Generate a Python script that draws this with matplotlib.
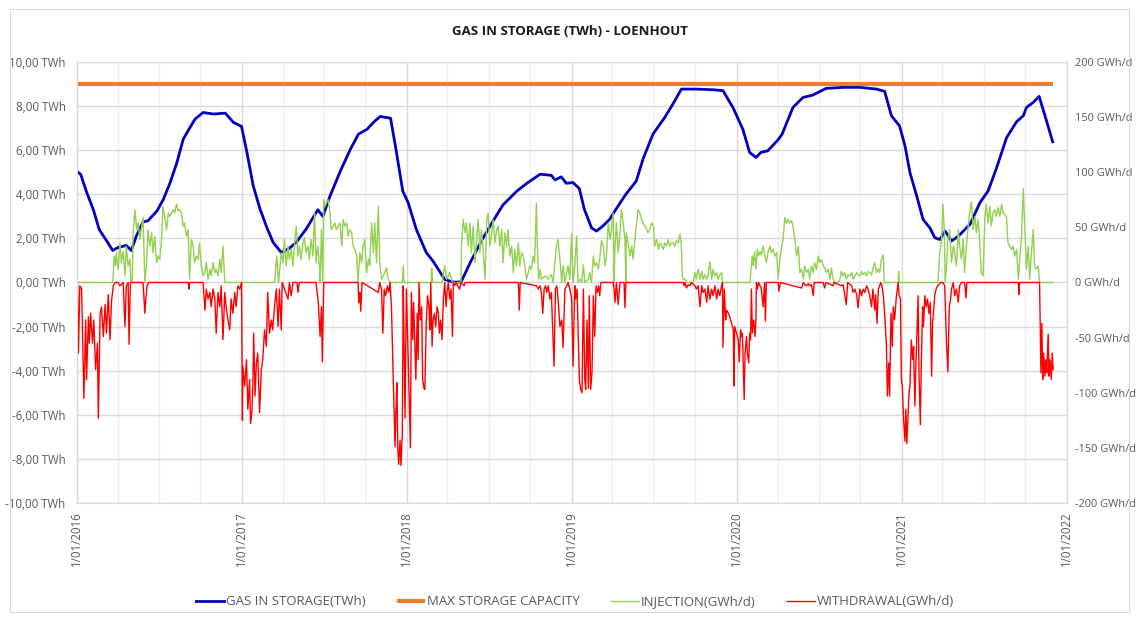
#!/usr/bin/env python3
"""Gas in storage at Loenhout: stock, max capacity, daily injection and withdrawal."""

import matplotlib

matplotlib.use("Agg")
import matplotlib.pyplot as plt
import matplotlib.dates as mdates
import numpy as np
from matplotlib.patches import Rectangle

plt.rcParams["font.family"] = ["Open Sans", "DejaVu Sans"]

STORAGE_COLOR = "#0000C0"
CAPACITY_COLOR = "#ED7D31"
INJECTION_COLOR = "#92D050"
WITHDRAWAL_COLOR = "#FF0000"
TEXT_COLOR = "#595959"
GRID_COLOR = "#D9D9D9"

START = np.datetime64("2016-01-01")
END = np.datetime64("2022-01-01")

# gas in storage (TWh)
STORAGE_DATES = [
    "2016-01-01", "2016-01-10", "2016-01-23", "2016-02-07", "2016-02-20", "2016-03-07",
    "2016-03-21", "2016-04-01", "2016-04-20", "2016-05-01", "2016-05-12", "2016-05-27",
    "2016-06-07", "2016-06-27", "2016-07-11", "2016-07-26", "2016-08-10", "2016-08-24",
    "2016-09-08", "2016-09-19", "2016-10-07", "2016-10-30", "2016-11-25", "2016-12-13",
    "2016-12-31", "2017-01-12", "2017-01-26", "2017-02-10", "2017-02-25", "2017-03-11",
    "2017-03-29", "2017-04-16", "2017-05-01", "2017-05-23", "2017-06-18", "2017-06-29",
    "2017-07-15", "2017-08-07", "2017-08-29", "2017-09-16", "2017-10-05", "2017-10-19",
    "2017-11-03", "2017-11-26", "2017-12-08", "2017-12-23", "2018-01-04", "2018-01-22",
    "2018-02-13", "2018-02-28", "2018-03-26", "2018-04-13", "2018-05-01", "2018-05-23",
    "2018-06-17", "2018-07-11", "2018-08-02", "2018-09-02", "2018-09-24", "2018-10-23",
    "2018-11-17", "2018-11-25", "2018-12-09", "2018-12-20", "2019-01-04", "2019-01-18",
    "2019-01-29", "2019-02-14", "2019-02-25", "2019-03-11", "2019-03-26", "2019-04-09",
    "2019-05-01", "2019-05-24", "2019-06-08", "2019-06-30", "2019-07-26", "2019-08-13",
    "2019-09-01", "2019-10-04", "2019-11-10", "2019-12-02", "2019-12-24", "2020-01-15",
    "2020-01-30", "2020-02-13", "2020-02-24", "2020-03-10", "2020-04-02", "2020-04-11",
    "2020-05-05", "2020-05-27", "2020-06-18", "2020-07-17", "2020-08-24", "2020-09-30",
    "2020-11-06", "2020-11-24", "2020-12-09", "2020-12-27", "2021-01-08", "2021-01-19",
    "2021-02-03", "2021-02-17", "2021-03-04", "2021-03-15", "2021-03-26", "2021-04-07",
    "2021-04-21", "2021-05-06", "2021-06-01", "2021-06-23", "2021-07-11", "2021-07-30",
    "2021-08-21", "2021-09-12", "2021-09-27", "2021-10-04", "2021-10-19", "2021-11-01",
    "2021-11-14", "2021-12-01",
]
STORAGE_TWH = [
    5.05, 4.9, 4.1, 3.3, 2.4, 1.9, 1.45, 1.58, 1.68, 1.45, 2.1, 2.74,
    2.8, 3.25, 3.77, 4.53, 5.44, 6.5, 7.03, 7.41, 7.71, 7.64, 7.68, 7.26,
    7.08, 5.9, 4.38, 3.33, 2.5, 1.82, 1.36, 1.55, 1.82, 2.42, 3.3, 3.0,
    3.92, 5.06, 6.04, 6.73, 6.95, 7.26, 7.53, 7.45, 6.04, 4.15, 3.62, 2.41,
    1.36, 0.97, 0.14, 0.02, 0.02, 0.97, 1.95, 2.79, 3.52, 4.15, 4.5, 4.91,
    4.86, 4.65, 4.79, 4.5, 4.53, 4.26, 3.32, 2.48, 2.33, 2.56, 2.86, 3.32,
    4.0, 4.6, 5.6, 6.73, 7.48, 8.09, 8.77, 8.77, 8.74, 8.7, 7.94, 6.95,
    5.9, 5.67, 5.9, 5.97, 6.47, 6.73, 7.94, 8.39, 8.5, 8.8, 8.85, 8.85,
    8.77, 8.67, 7.56, 7.1, 6.2, 4.98, 3.92, 2.86, 2.48, 2.03, 1.95, 2.33,
    1.88, 2.1, 2.64, 3.62, 4.15, 5.21, 6.57, 7.29, 7.56, 7.94, 8.17, 8.44,
    7.56, 6.38,
]

CAPACITY_DATES = ["2016-01-01", "2021-12-01"]
CAPACITY_TWH = [9.0, 9.0]

# injection (GWh/d): (days since 2016-01-01, value)
INJECTION = [
    (0, 7), (2, 0), (80, 0), (83, 24), (86, 15), (88, 27), (92, 12), (96, 36), (99, 18),
    (103, 28), (107, 6), (110, 33), (114, 15), (118, 21), (120, 0), (123, 0), (125, 45),
    (129, 66), (133, 48), (136, 54), (140, 39), (144, 51), (147, 59), (151, 0), (155, 18),
    (158, 48), (162, 33), (166, 45), (169, 27), (173, 42), (177, 18), (180, 24), (184, 21),
    (188, 39), (191, 69), (195, 60), (199, 48), (203, 63), (206, 60), (214, 66), (217, 63),
    (221, 71), (225, 65), (228, 66), (232, 63), (236, 51), (239, 54), (243, 42), (247, 48),
    (250, 3), (254, 39), (258, 33), (261, 18), (265, 24), (269, 21), (272, 36), (276, 15),
    (280, 6), (284, 9), (287, 18), (291, 3), (295, 12), (298, 6), (302, 18), (306, 9),
    (309, 12), (313, 6), (317, 21), (320, 9), (324, 33), (328, 0), (438, 0), (440, 9),
    (443, 24), (447, 0), (453, 27), (457, 18), (460, 39), (464, 15), (468, 33), (471, 21),
    (475, 30), (479, 15), (482, 33), (486, 51), (490, 24), (493, 33), (497, 21), (501, 36),
    (504, 41), (508, 27), (512, 33), (515, 21), (519, 39), (523, 24), (527, 63), (530, 18),
    (534, 33), (538, 12), (539, 0), (542, 48), (545, 0), (547, 75), (550, 69), (553, 72),
    (557, 75), (561, 63), (564, 48), (568, 51), (572, 54), (575, 48), (579, 51), (583, 54),
    (587, 33), (590, 57), (594, 51), (598, 54), (601, 42), (605, 48), (609, 45), (612, 33),
    (616, 30), (620, 24), (623, 0), (627, 27), (631, 18), (634, 33), (638, 39), (642, 9),
    (646, 21), (649, 15), (653, 54), (657, 27), (660, 54), (664, 18), (668, 69), (671, 18),
    (675, 3), (679, 6), (682, 9), (686, 13), (690, 3), (694, 0), (721, 0), (723, 15),
    (725, 0), (785, 0), (786, 13), (788, 0), (810, 0), (812, 9), (815, 15), (819, 3),
    (823, 6), (826, 9), (830, 3), (832, 0), (851, 0), (852, 33), (856, 57), (860, 45),
    (863, 54), (867, 33), (871, 54), (874, 27), (878, 51), (882, 18), (885, 36), (889, 57),
    (893, 27), (896, 48), (900, 30), (904, 3), (908, 57), (911, 63), (915, 33), (919, 45),
    (922, 57), (926, 36), (930, 48), (933, 51), (937, 33), (941, 48), (944, 18), (948, 45),
    (952, 33), (955, 48), (959, 24), (963, 33), (967, 9), (970, 30), (974, 15), (978, 36),
    (981, 15), (985, 27), (989, 24), (992, 15), (996, 3), (1000, 9), (1003, 15), (1007, 12),
    (1011, 24), (1014, 18), (1018, 72), (1020, 33), (1023, 3), (1026, 12), (1029, 3),
    (1037, 6), (1044, 3), (1048, 6), (1051, 7), (1055, 0), (1062, 33), (1066, 39),
    (1070, 21), (1074, 0), (1077, 15), (1081, 0), (1085, 9), (1088, 15), (1092, 3),
    (1096, 44), (1099, 0), (1103, 15), (1107, 42), (1110, 0), (1114, 3), (1118, 0),
    (1122, 16), (1125, 0), (1133, 3), (1136, 9), (1140, 0), (1144, 24), (1147, 15),
    (1151, 18), (1155, 12), (1158, 21), (1162, 38), (1166, 33), (1170, 15), (1173, 24),
    (1177, 54), (1181, 39), (1184, 48), (1188, 63), (1190, 0), (1192, 33), (1195, 54),
    (1199, 27), (1203, 45), (1206, 66), (1210, 54), (1214, 39), (1216, 0), (1217, 45),
    (1221, 36), (1225, 24), (1229, 33), (1232, 21), (1236, 39), (1240, 54), (1243, 66),
    (1247, 63), (1251, 57), (1254, 54), (1258, 51), (1262, 48), (1265, 45), (1269, 48),
    (1273, 54), (1277, 51), (1280, 33), (1284, 39), (1288, 30), (1291, 36), (1295, 33),
    (1299, 30), (1302, 36), (1306, 33), (1310, 39), (1313, 33), (1317, 36), (1321, 36),
    (1324, 33), (1328, 38), (1332, 36), (1336, 44), (1339, 33), (1341, 6), (1343, 3),
    (1347, 3), (1350, 1), (1354, 0), (1365, 0), (1369, 9), (1372, 3), (1376, 12),
    (1380, 3), (1384, 10), (1387, 3), (1391, 7), (1395, 3), (1398, 6), (1402, 19),
    (1406, 3), (1409, 12), (1413, 6), (1417, 9), (1420, 3), (1424, 7), (1428, 9),
    (1430, 0), (1491, 0), (1493, 12), (1496, 24), (1498, 15), (1501, 28), (1504, 12),
    (1507, 30), (1510, 24), (1513, 28), (1516, 25), (1520, 33), (1524, 24), (1527, 18),
    (1531, 28), (1535, 33), (1538, 27), (1542, 30), (1546, 24), (1550, 27), (1553, 3),
    (1557, 21), (1561, 33), (1564, 39), (1568, 59), (1572, 54), (1575, 57), (1579, 54),
    (1583, 56), (1586, 51), (1590, 39), (1594, 24), (1598, 33), (1601, 9), (1605, 12),
    (1609, 3), (1612, 15), (1616, 9), (1620, 12), (1623, 3), (1627, 15), (1631, 9),
    (1634, 18), (1638, 12), (1642, 24), (1645, 18), (1649, 21), (1653, 15), (1656, 13),
    (1660, 9), (1664, 12), (1668, 3), (1671, 13), (1675, 3), (1679, 0), (1686, 0),
    (1690, 3), (1693, 10), (1697, 6), (1701, 9), (1704, 3), (1708, 7), (1712, 6),
    (1716, 9), (1719, 3), (1723, 6), (1727, 9), (1730, 7), (1734, 6), (1738, 10),
    (1741, 7), (1745, 9), (1749, 6), (1752, 10), (1756, 9), (1760, 7), (1763, 13),
    (1767, 18), (1771, 9), (1775, 12), (1778, 9), (1782, 21), (1786, 25), (1788, 0),
    (1819, 0), (1820, 10), (1821, 0), (1907, 0), (1911, 27), (1915, 39), (1918, 71),
    (1921, 48), (1923, 0), (1926, 15), (1929, 39), (1933, 48), (1937, 18), (1941, 33),
    (1944, 27), (1948, 15), (1952, 48), (1955, 33), (1959, 21), (1963, 39), (1966, 9),
    (1970, 33), (1974, 51), (1977, 63), (1981, 73), (1985, 48), (1989, 60), (1992, 45),
    (1996, 57), (2000, 33), (2003, 9), (2007, 6), (2011, 60), (2014, 71), (2018, 54),
    (2022, 69), (2025, 51), (2029, 63), (2033, 66), (2036, 60), (2040, 68), (2044, 60),
    (2048, 71), (2051, 63), (2055, 62), (2059, 59), (2062, 36), (2066, 33), (2070, 30),
    (2073, 33), (2077, 24), (2081, 30), (2085, 3), (2088, 21), (2092, 42), (2096, 85),
    (2098, 63), (2101, 33), (2103, 12), (2107, 33), (2110, 3), (2114, 27), (2118, 48),
    (2121, 15), (2125, 12), (2129, 15), (2132, 0), (2162, 0),
]

# withdrawal (GWh/d, negative): (days since 2016-01-01, value)
WITHDRAWAL = [
    (0, 0), (2, -2), (4, -64), (7, -3), (11, -6), (16, -105), (20, -34), (22, -88),
    (26, -31), (28, -55), (31, -28), (35, -55), (38, -34), (42, -79), (46, -55), (48, -123),
    (52, -28), (55, -22), (59, -49), (63, -20), (66, -46), (70, -11), (74, -52), (77, -18),
    (81, -3), (85, 0), (92, 0), (96, -3), (103, 0), (107, -40), (110, -3), (114, 0),
    (116, -56), (119, 0), (147, 0), (151, -28), (153, -15), (156, -3), (159, 0), (247, 0),
    (249, -6), (250, 0), (280, 0), (284, -25), (287, -6), (291, -15), (295, -9), (298, -22),
    (302, -6), (306, -15), (309, -46), (313, -9), (317, -22), (320, -3), (324, -52),
    (328, -9), (331, -22), (335, -34), (339, -43), (342, -15), (346, -28), (350, -9),
    (353, -22), (357, -3), (361, -6), (365, 0), (367, -125), (368, -76), (372, -94),
    (376, -70), (379, -115), (383, -88), (385, -128), (388, -118), (390, -94), (392, -46),
    (395, -103), (398, -73), (401, -64), (405, -118), (409, -79), (412, -70), (416, -43),
    (420, -58), (423, -9), (427, -46), (431, -34), (434, -43), (438, -22), (442, -6),
    (446, -40), (449, -6), (453, -43), (455, 0), (468, -15), (471, 0), (475, -12), (479, 0),
    (488, 0), (490, -9), (493, 0), (530, 0), (535, -18), (539, -49), (542, -22), (544, -72),
    (547, 0), (623, 0), (625, -18), (627, -9), (629, -26), (632, 0), (668, -9), (671, 0),
    (675, -6), (678, -46), (681, -6), (684, -12), (688, -3), (691, -9), (694, 0), (697, -22),
    (701, -88), (705, -149), (707, -115), (709, -91), (711, -149), (713, -165), (716, -143),
    (718, -166), (721, -137), (723, -3), (725, -58), (727, -123), (730, -6), (733, -52),
    (736, -103), (739, -150), (741, -9), (744, -52), (746, -18), (749, -58), (751, -88),
    (754, -28), (756, -70), (758, 0), (761, -34), (764, -22), (766, -88), (769, -96),
    (771, -97), (774, -37), (777, -12), (780, -22), (782, -43), (784, 0), (787, -58),
    (789, -34), (792, -28), (795, -40), (798, -22), (801, -28), (803, -46), (806, -34),
    (809, -52), (812, -15), (815, 0), (818, -22), (820, -9), (823, 0), (826, -15), (829, -6),
    (832, -49), (834, 0), (837, -3), (840, 0), (848, -6), (851, 0), (858, -3), (860, 0),
    (978, 0), (980, -25), (982, 0), (1018, -3), (1022, -6), (1026, -3), (1029, -9),
    (1032, -28), (1035, -6), (1038, -3), (1041, -9), (1044, -3), (1048, -15), (1051, -9),
    (1054, -43), (1057, -76), (1060, -6), (1063, -3), (1066, -15), (1070, -40), (1074, -34),
    (1077, -59), (1081, -6), (1085, -3), (1088, 0), (1092, -6), (1096, -15), (1099, -76),
    (1103, -3), (1105, -15), (1108, -6), (1110, -40), (1113, -88), (1116, -97), (1119, -100),
    (1122, -6), (1125, -88), (1127, -97), (1130, -34), (1133, -96), (1135, -12), (1138, -97),
    (1141, -82), (1144, -12), (1147, -49), (1150, -3), (1153, -9), (1156, -3), (1158, -12),
    (1161, 0), (1188, 0), (1190, -6), (1192, -18), (1195, 0), (1199, -20), (1203, 0),
    (1212, 0), (1214, -23), (1216, 0), (1343, 0), (1345, -3), (1347, 0), (1350, -5),
    (1354, -2), (1358, -3), (1361, 0), (1369, -3), (1372, -6), (1376, -3), (1380, -22),
    (1384, -3), (1387, -9), (1391, -6), (1395, -18), (1398, -3), (1402, -15), (1406, -6),
    (1409, -12), (1413, -3), (1417, -15), (1420, -6), (1424, -12), (1428, -3), (1430, 0),
    (1431, -59), (1434, -6), (1437, -34), (1439, -25), (1443, -28), (1446, -31), (1450, -37),
    (1454, -43), (1455, -94), (1457, -40), (1461, -46), (1465, -52), (1467, -72), (1470, -43),
    (1472, -49), (1474, -46), (1476, -76), (1478, -106), (1480, -64), (1483, -49), (1485, -64),
    (1488, -73), (1490, -46), (1492, -52), (1494, -6), (1496, -46), (1499, -34), (1502, -49),
    (1504, -34), (1505, 0), (1507, -6), (1510, 0), (1516, -6), (1520, -22), (1523, 0),
    (1525, -35), (1527, 0), (1553, 0), (1555, -8), (1558, 0), (1605, -5), (1609, 0),
    (1612, -2), (1616, -3), (1620, -1), (1623, -3), (1627, -2), (1631, -12), (1633, 0),
    (1653, 0), (1656, -5), (1659, 0), (1675, -3), (1677, 0), (1693, -3), (1697, -2),
    (1704, -20), (1707, 0), (1716, -3), (1719, -9), (1723, -6), (1727, -11), (1730, -23),
    (1734, -6), (1738, -12), (1741, -6), (1745, -9), (1749, -3), (1752, -6), (1756, -12),
    (1760, -22), (1763, -6), (1767, -25), (1769, -11), (1772, -37), (1775, -6), (1778, -3),
    (1780, 0), (1783, -3), (1786, -12), (1789, -28), (1793, -58), (1795, -103), (1798, -73),
    (1800, -103), (1803, -28), (1806, -58), (1808, -22), (1811, -34), (1815, -12), (1819, 0),
    (1821, -12), (1824, -15), (1826, -88), (1828, -94), (1831, -125), (1834, -144),
    (1836, -115), (1838, -146), (1841, -118), (1843, -100), (1845, -94), (1848, -52),
    (1851, -70), (1853, -58), (1856, -112), (1858, -76), (1860, -52), (1863, -12),
    (1865, -82), (1868, -129), (1870, -76), (1873, -22), (1875, -40), (1878, -12),
    (1881, -22), (1884, -15), (1887, -28), (1890, -18), (1893, -85), (1895, -37),
    (1897, -28), (1900, -11), (1903, -6), (1906, -3), (1909, -2), (1912, 0), (1918, 0),
    (1922, -3), (1926, -56), (1929, -81), (1932, -22), (1935, -15), (1937, -6), (1941, 0),
    (1944, -12), (1948, -6), (1952, -18), (1955, -3), (1959, 0), (1966, 0), (1969, -14),
    (1971, 0), (2085, 0), (2086, -11), (2088, 0), (2132, 0), (2135, -82), (2137, -37),
    (2139, -88), (2141, -64), (2144, -85), (2146, -70), (2148, -82), (2151, -47),
    (2153, -85), (2155, -70), (2158, -88), (2160, -64), (2162, -79),
]

LEFT_TICKS = np.arange(-10, 11, 2)
RIGHT_TICKS = np.arange(-200, 201, 50)
YEAR_TICKS = [np.datetime64(f"{y}-01-01") for y in range(2016, 2023)]


def split_days(pairs):
    days = np.array([p[0] for p in pairs])
    vals = np.array([p[1] for p in pairs], dtype=float)
    return START + days.astype("timedelta64[D]"), vals


def main() -> None:
    fig = plt.figure(figsize=(11.39, 6.18), dpi=100)
    fig.patches.append(Rectangle((0.009, 0.01), 0.982, 0.975, transform=fig.transFigure,
                                 fill=False, edgecolor=GRID_COLOR, linewidth=0.8))
    ax = fig.add_axes([0.0673, 0.1861, 0.8692, 0.7136])
    ax2 = ax.twinx()

    storage_x = np.array(STORAGE_DATES, dtype="datetime64[D]")
    cap_x = np.array(CAPACITY_DATES, dtype="datetime64[D]")
    inj_x, inj_y = split_days(INJECTION)
    wd_x, wd_y = split_days(WITHDRAWAL)

    h1, = ax.plot(storage_x, STORAGE_TWH, color=STORAGE_COLOR, lw=2.0, zorder=3,
                  label="GAS IN STORAGE(TWh)")
    h2, = ax.plot(cap_x, CAPACITY_TWH, color=CAPACITY_COLOR, lw=3.0, zorder=3,
                  solid_capstyle="butt", label="MAX STORAGE CAPACITY")
    h3, = ax2.plot(inj_x, inj_y, color=INJECTION_COLOR, lw=1.0, label="INJECTION(GWh/d)")
    h4, = ax2.plot(wd_x, wd_y, color=WITHDRAWAL_COLOR, lw=1.0, label="WITHDRAWAL(GWh/d)")

    ax.set_xlim(START, END)
    ax.set_ylim(-10, 10)
    ax2.set_ylim(-200, 200)

    ax.set_yticks(LEFT_TICKS)
    ax.set_yticklabels([f"{v:.2f}".replace(".", ",") + " TWh" for v in LEFT_TICKS])
    ax2.set_yticks(RIGHT_TICKS)
    ax2.set_yticklabels([f"{v} GWh/d" for v in RIGHT_TICKS])

    ax.set_xticks(YEAR_TICKS)
    ax.set_xticklabels([f"1/01/{y}" for y in range(2016, 2023)], rotation=90)
    ax.xaxis.set_minor_locator(mdates.MonthLocator(bymonth=[4, 7, 10]))

    ax.grid(True, which="major", color=GRID_COLOR, lw=1.0)
    ax.grid(True, which="minor", axis="x", color="#EEEEEE", lw=1.0)
    ax.set_axisbelow(True)

    for a in (ax, ax2):
        a.tick_params(length=0, labelsize=8.3, labelcolor=TEXT_COLOR, which="both")
        for s in a.spines.values():
            s.set_color(GRID_COLOR)
    ax.tick_params(axis="y", pad=8)
    ax2.tick_params(axis="y", pad=6, labelsize=7.9)
    ax.tick_params(axis="x", pad=6)

    fig.text(0.5, 0.949, "GAS IN STORAGE (TWh) - LOENHOUT", ha="center", va="center",
             fontsize=9.5, fontweight="bold", color="#1A1A1A")

    fig.legend(handles=[h1, h2, h3, h4], loc="center", bbox_to_anchor=(0.505, 0.026),
               ncol=4, frameon=False, fontsize=9.5, handlelength=2.1, handletextpad=0.15,
               columnspacing=2.4, labelcolor=TEXT_COLOR)

    fig.savefig("out.png", dpi=100)
    plt.close(fig)


if __name__ == "__main__":
    main()
